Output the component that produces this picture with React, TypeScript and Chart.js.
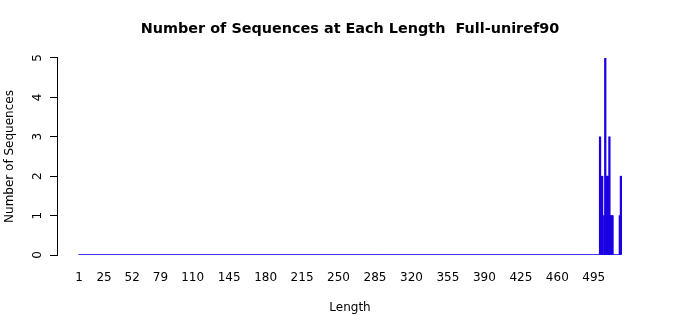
import React, { useEffect, useRef } from "react";
import { Chart, registerables } from "chart.js";

Chart.register(...registerables);

const chartTitle = "Number of Sequences at Each Length  Full-uniref90";
const xTitle = "Length";
const yTitle = "Number of Sequences";

// Range of lengths shown on the x axis (one category per length)
const firstLength = 1;
const lastLength = 521;

// Lengths that have at least one sequence, and their counts
const observedLengths = [501, 503, 505, 506, 507, 508, 509, 510, 511, 512, 513, 520, 521];
const observedCounts = [3, 2, 1, 5, 2, 2, 2, 3, 1, 1, 1, 1, 2];

// Tick labels visible on the x axis
const xTickLabels = [1, 25, 52, 79, 110, 145, 180, 215, 250, 285, 320, 355, 390, 425, 460, 495];
const yTickValues = [0, 1, 2, 3, 4, 5];

const BLUE = "#0000ff";
const BAR_FILL = "#1c00e4";

export default function App() {
  const ref = useRef<HTMLCanvasElement | null>(null);

  useEffect(() => {
    if (!ref.current) return;
    Chart.defaults.font.family = "'DejaVu Sans', sans-serif";
    Chart.defaults.color = "#000";

    const countByLength = new Map<number, number>();
    observedLengths.forEach((l, i) => countByLength.set(l, observedCounts[i]));
    const table: { x: number; y: number }[] = [];
    for (let l = firstLength; l <= lastLength; l++) {
      table.push({ x: l, y: countByLength.get(l) ?? 0 });
    }
    const pad = 0.4;
    const span = lastLength - firstLength + 2 * pad;
    const ext = span * 0.04;

    const chart = new Chart(ref.current, {
      type: "bar",
      data: {
        datasets: [
          {
            type: "line",
            data: [
              { x: firstLength - pad, y: 0 },
              { x: lastLength + pad, y: 0 },
            ],
            borderColor: BLUE,
            borderWidth: 1,
            pointRadius: 0,
          } as any,
          {
            type: "bar",
            data: table,
            backgroundColor: BAR_FILL,
            borderWidth: 0,
            barThickness: 1.6,
          } as any,
        ],
      },
      options: {
        animation: false,
        responsive: false,
        maintainAspectRatio: false,
        layout: { padding: 0 },
        plugins: {
          legend: { display: false },
          tooltip: { enabled: false },
          title: {
            display: true,
            text: chartTitle,
            color: "#000",
            font: { size: 14.4, weight: "bold" },
            padding: { top: 20.3, bottom: 20.4 },
          },
        },
        scales: {
          x: {
            type: "linear",
            offset: false,
            min: firstLength - pad - ext,
            max: lastLength + pad + ext,
            grid: { display: false, drawTicks: false, offset: false },
            border: { display: false },
            afterBuildTicks: (scale: any) => {
              scale.ticks = xTickLabels.map((v) => ({ value: v }));
            },
            afterFit: (scale: any) => {
              scale.height = 60;
              scale.paddingLeft = 0;
              scale.paddingRight = 0;
            },
            ticks: {
              autoSkip: false,
              maxRotation: 0,
              minRotation: 0,
              padding: 16,
              font: { size: 12 },
              color: "#000",
            },
            title: {
              display: true,
              text: xTitle,
              font: { size: 12 },
              color: "#000",
              padding: { top: 0, bottom: 0 },
            },
          },
          y: {
            min: 0,
            max: 5,
            afterBuildTicks: (scale: any) => {
              scale.ticks = yTickValues.map((v) => ({ value: v }));
            },
            afterFit: (scale: any) => {
              scale.width = 57;
            },
            grid: {
              drawOnChartArea: false,
              drawTicks: true,
              tickLength: 7,
              color: "#000",
            },
            border: { display: true, color: "#000", width: 1 },
            ticks: {
              minRotation: 90,
              maxRotation: 90,
              crossAlign: "center",
              padding: 8,
              font: { size: 12 },
              color: "#000",
            },
            title: {
              display: true,
              text: yTitle,
              font: { size: 12 },
              color: "#000",
              padding: { top: 2.3, bottom: 0 },
            },
          },
          yRight: {
            position: "right",
            min: 0,
            max: 5,
            grid: { display: false, drawTicks: false },
            border: { display: false },
            ticks: { display: false },
            afterFit: (scale: any) => {
              scale.width = 57;
            },
          },
        },
      },
    } as any);
    return () => chart.destroy();
  }, []);

  return (
    <div style={{ position: "fixed", left: 0, top: 0, width: 700, height: 315, background: "#fff" }}>
      <canvas ref={ref} width={700} height={315} style={{ width: 700, height: 315 }} />
    </div>
  );
}
